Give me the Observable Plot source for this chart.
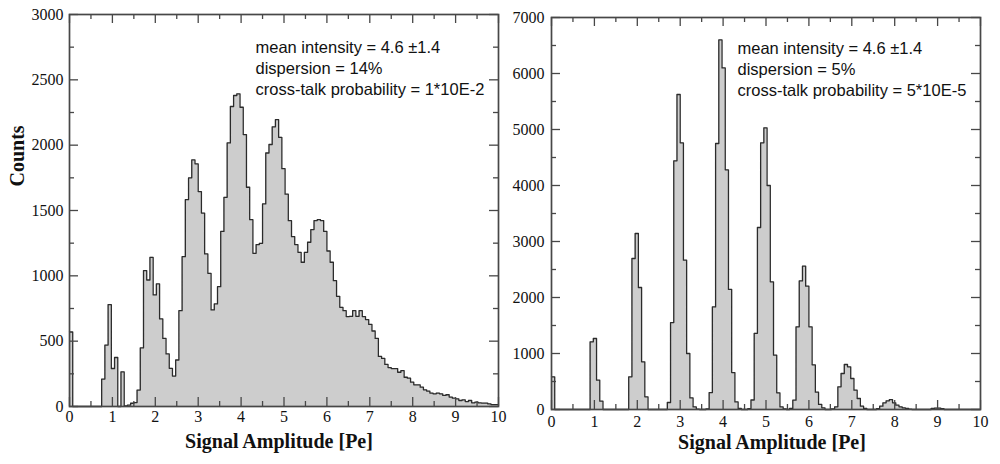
<!DOCTYPE html>
<html><head><meta charset="utf-8">
<script src="https://cdn.jsdelivr.net/npm/d3@7"></script>
<script src="https://cdn.jsdelivr.net/npm/@observablehq/plot@0.6"></script>
<style>
body{margin:0;background:#fff;}
#wrap{position:relative;width:1000px;height:464px;overflow:hidden;background:#fff;}
#wrap svg{position:absolute;top:0;overflow:visible;}
</style></head><body><div id="wrap"></div>
<script>
// ---- data ----
const binWidth = 0.075;           // width of one histogram bin [Pe], bins start at 0
const xDomain = [0, 10];
const xLabels = [0, 1, 2, 3, 4, 5, 6, 7, 8, 9, 10];
const xMinor = [0.5, 1.5, 2.5, 3.5, 4.5, 5.5, 6.5, 7.5, 8.5, 9.5];

const leftCounts = [
  570, 0, 0, 0, 0, 0, 0, 0, 0, 0,
  210, 470, 780, 291, 375, 0, 265, 5, 10, 25,
  30, 126, 448, 1040, 968, 1142, 854, 938, 670, 521,
  402, 292, 233, 356, 733, 1147, 1583, 1750, 1887, 1857,
  1645, 1480, 1168, 1019, 739, 785, 917, 1340, 1601, 2017,
  2296, 2380, 2393, 2290, 2081, 1678, 1430, 1172, 1239, 1249,
  1550, 1940, 2005, 2140, 2195, 2060, 1820, 1625, 1422, 1300,
  1239, 1180, 1104, 1180, 1257, 1354, 1423, 1430, 1423, 1340,
  1190, 1104, 963, 843, 759, 733, 688, 690, 733, 690,
  733, 688, 665, 628, 578, 521, 383, 368, 322, 298,
  290, 290, 262, 275, 224, 217, 186, 166, 166, 148,
  128, 118, 103, 97, 103, 97, 85, 90, 72, 64,
  59, 46, 51, 38, 46, 28, 33, 28, 26, 26,
  20, 15, 15, 15
];
const rightCounts = [
  583, 0, 0, 0, 0, 0, 0, 0, 0, 0,
  0, 0, 1208, 1268, 524, 149, 0, 0, 0, 0,
  0, 0, 0, 0, 583, 2696, 3143, 2179, 851, 226,
  0, 0, 0, 0, 0, 0, 125, 1553, 4440, 5625,
  4762, 2667, 1000, 207, 46, 8, 0, 0, 10, 303,
  1832, 4750, 6600, 6100, 4280, 2145, 660, 136, 18, 0,
  0, 15, 170, 1360, 3250, 4762, 5030, 4000, 2280, 970,
  297, 46, 10, 0, 20, 166, 1476, 2296, 2559, 2202,
  1476, 798, 310, 90, 30, 0, 0, 10, 47, 405,
  643, 804, 762, 554, 345, 196, 60, 18, 0, 0,
  0, 15, 60, 119, 155, 175, 119, 78, 48, 30,
  18, 5, 0, 0, 0, 0, 0, 0, 20, 25,
  25, 15, 0, 0, 0, 0, 0, 0, 0, 0,
  0, 0, 0, 0
];

const leftYLabels = [0, 500, 1000, 1500, 2000, 2500, 3000];
const leftYMinor = [250, 750, 1250, 1750, 2250, 2750];
const rightYLabels = [0, 1000, 2000, 3000, 4000, 5000, 6000, 7000];
const rightYMinor = [500, 1500, 2500, 3500, 4500, 5500, 6500];

const leftNote = ["mean intensity = 4.6 \u00b11.4", "dispersion = 14%", "cross-talk probability = 1*10E-2"];
const rightNote = ["mean intensity = 4.6 \u00b11.4", "dispersion = 5%", "cross-talk probability = 5*10E-5"];
const xTitle = "Signal Amplitude [Pe]";
const yTitle = "Counts";

// ---- drawing ----
const serif = "Liberation Serif";
const sans = "Liberation Sans";

function hist(counts) {
  const pts = counts.map((c, i) => ({x: xDomain[0] + i * binWidth, y: c}));
  pts.push({x: xDomain[1], y: counts[counts.length - 1]});
  return pts;
}

function panel(o) {
  const W = 500, H = 464;
  const fw = W - o.ml - o.mr, fh = H - o.mt - o.mb;
  const data = hist(o.counts);
  const tc = "#474747";
  const marks = [
    Plot.areaY(data, {x: "x", y: "y", curve: "step-after", fill: "#cdcdcd"}),
    Plot.lineY(data, {x: "x", y: "y", curve: "step-after", stroke: "#2b2b2b", strokeWidth: 1.3}),
    Plot.ruleX(xLabels, {x: d => d, insetTop: fh - 9, stroke: tc, strokeWidth: 1.3}),
    Plot.ruleX(xLabels, {x: d => d, insetBottom: fh - 9, stroke: tc, strokeWidth: 1.3}),
    Plot.ruleX(xMinor, {x: d => d, insetTop: fh - 5, stroke: tc, strokeWidth: 1.3}),
    Plot.ruleX(xMinor, {x: d => d, insetBottom: fh - 5, stroke: tc, strokeWidth: 1.3}),
    Plot.ruleY(o.yLabels, {y: d => d, insetRight: fw - 9, stroke: tc, strokeWidth: 1.3}),
    Plot.ruleY(o.yLabels, {y: d => d, insetLeft: fw - 9, stroke: tc, strokeWidth: 1.3}),
    Plot.ruleY(o.yMinor, {y: d => d, insetRight: fw - 5, stroke: tc, strokeWidth: 1.3}),
    Plot.ruleY(o.yMinor, {y: d => d, insetLeft: fw - 5, stroke: tc, strokeWidth: 1.3}),
    Plot.frame({stroke: tc, strokeWidth: 1.7}),
    // tick labels
    Plot.text(xLabels, {x: d => d, frameAnchor: "bottom", dy: o.xPad, lineAnchor: "top", text: d => String(d), fontSize: 16, fontFamily: serif, fill: "#111"}),
    Plot.text(o.yLabels, {y: d => d, frameAnchor: "left", dx: -o.yPad, textAnchor: "end", lineAnchor: "middle", text: d => String(d), fontSize: 16, fontFamily: serif, fill: "#111"}),
    // annotation & titles
    Plot.text([o.note.join("\n")], {frameAnchor: "top-left", dx: o.noteDx, dy: o.noteDy, textAnchor: "start", lineAnchor: "top", lineHeight: 1.27, fontSize: 16.5, fontFamily: sans, fill: "#111"}),
    Plot.text([xTitle], {frameAnchor: "bottom", dx: o.titleDx, dy: o.titleDy, lineAnchor: "middle", fontSize: 20, fontWeight: "bold", fontFamily: serif, fill: "#111"})
  ];
  if (o.yTitle) {
    marks.push(Plot.text([o.yTitle], {frameAnchor: "left", rotate: -90, dx: -52, dy: -24, lineAnchor: "middle", fontSize: 20, fontWeight: "bold", fontFamily: serif, fill: "#111"}));
  }
  const svg = Plot.plot({
    width: W, height: H,
    marginLeft: o.ml, marginRight: o.mr, marginTop: o.mt, marginBottom: o.mb,
    x: {domain: xDomain, axis: null},
    y: {domain: [0, o.yMax], axis: null},
    style: {overflow: "visible", background: "transparent"},
    marks
  });
  svg.style.left = o.left + "px";
  return svg;
}

const wrap = document.getElementById("wrap");
wrap.appendChild(panel({
  counts: leftCounts, yMax: 3000, yLabels: leftYLabels, yMinor: leftYMinor, note: leftNote,
  ml: 69, mr: 2, mt: 14, mb: 58, left: 0, xPad: 4, yPad: 6,
  noteDx: 186, noteDy: 24, titleDx: -5, titleDy: 35, yTitle: yTitle
}));
wrap.appendChild(panel({
  counts: rightCounts, yMax: 7000, yLabels: rightYLabels, yMinor: rightYMinor, note: rightNote,
  ml: 51, mr: 20, mt: 17, mb: 55, left: 500, xPad: 6, yPad: 7,
  noteDx: 186, noteDy: 22, titleDx: 6, titleDy: 33, yTitle: null
}));
</script></body></html>
